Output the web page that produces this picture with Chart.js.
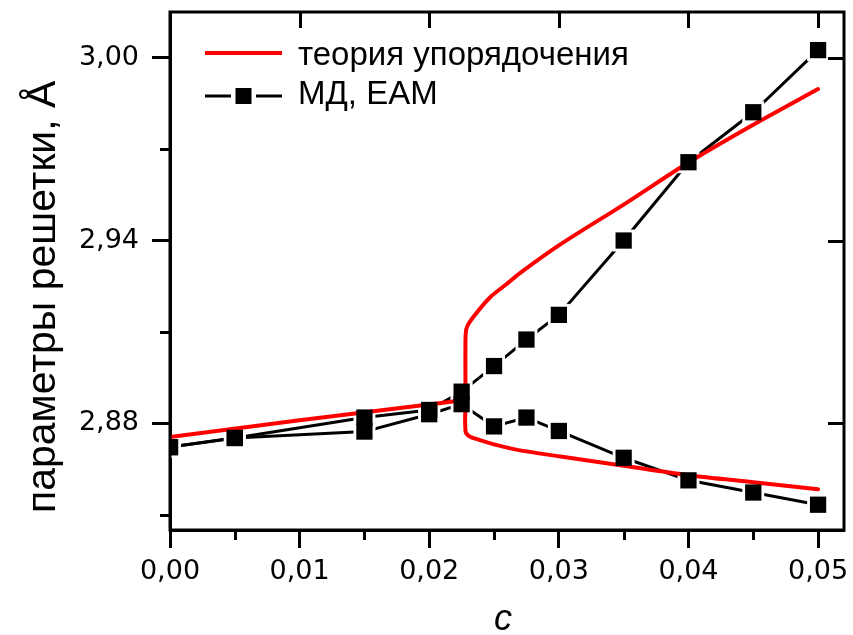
<!DOCTYPE html>
<html lang="ru">
<head>
  <meta charset="UTF-8" />
  <title>Параметры решетки</title>
  <script src="https://cdn.jsdelivr.net/npm/chart.js"></script>
  <style>
    body {
      margin: 0;
      background: #fff;
    }
    canvas {
      display: block;
    }
  </style>
</head>
<body>
  <canvas id="latticeChart" width="853" height="635"></canvas>

  <script>
    // MD (EAM) lattice parameters, two sublattice branches
    const cMD = [0, 0.005, 0.015, 0.02, 0.0225, 0.025, 0.0275, 0.03, 0.035, 0.04, 0.045, 0.05];
    const aMDUpper = [2.8722, 2.8752, 2.8819, 2.8844, 2.8904, 2.8988, 2.9075, 2.9156, 2.9400, 2.9657, 2.9821, 3.0025];
    const aMDLower = [2.8722, 2.8752, 2.8773, 2.8830, 2.8863, 2.8790, 2.8819, 2.8775, 2.8687, 2.8613, 2.8573, 2.8533];

    // ordering theory: disordered state below the transition
    const cTheoryDis = [0, 0.01, 0.0228];
    const aTheoryDis = [2.8755, 2.8810, 2.8877];
    // upper ordered branch
    const cTheoryUp = [0.0228, 0.0228, 0.0229, 0.0234, 0.0247, 0.026, 0.027, 0.03, 0.035, 0.04, 0.045, 0.05];
    const aTheoryUp = [2.8877, 2.9079, 2.9115, 2.9149, 2.9214, 2.9258, 2.9293, 2.9384, 2.9518, 2.9656, 2.9780, 2.9897];
    // lower ordered branch
    const cTheoryLow = [0.0228, 0.0228, 0.0231, 0.0237, 0.025, 0.0268, 0.03, 0.035, 0.04, 0.045, 0.05];
    const aTheoryLow = [2.8877, 2.8774, 2.8757, 2.8748, 2.8731, 2.8713, 2.8692, 2.8661, 2.8630, 2.8607, 2.8584];

    // axis ticks
    const xMajor = [0, 0.01, 0.02, 0.03, 0.04, 0.05];
    const xMinor = [0.005, 0.015, 0.025, 0.035, 0.045];
    const yMajor = [2.88, 2.94, 3.00];
    const yMinor = [2.85, 2.91, 2.97];

    const RED = "#ff0000";
    const SQ = 11.5;      // rect radius -> ~16px square
    const HALO = 15.5;    // white gap around squares

    const pts = (xs, ys) => xs.map((c, i) => ({ x: c, y: ys[i] }));
    const fmt = v => v.toFixed(2).replace(".", ",");

    const lineSet = (label, data, color, width, order, tension) => ({
      label, data, showLine: true, borderColor: color, borderWidth: width,
      pointRadius: 0, order, clip: 0, tension: tension || 0,
      borderJoinStyle: "round", borderCapStyle: "round"
    });
    const markSet = (label, data, color, radius, order) => ({
      label, data, showLine: false, pointStyle: "rect", pointRadius: radius,
      pointBackgroundColor: color, pointBorderWidth: 0, order, clip: 0
    });

    // frame, inner ticks, minor ticks, axis titles and legend
    const decor = {
      id: "decor",
      afterDraw(chart) {
        const { ctx, chartArea: a, scales: { x, y } } = chart;
        ctx.save();
        ctx.strokeStyle = "#000";
        ctx.lineWidth = 3;
        ctx.strokeRect(a.left, a.top, a.right - a.left, a.bottom - a.top);

        ctx.beginPath();
        xMinor.forEach(v => {
          const px = Math.round(x.getPixelForValue(v)) + 0.5;
          ctx.moveTo(px, a.bottom); ctx.lineTo(px, a.bottom + 10);
        });
        yMinor.forEach(v => {
          const py = Math.round(y.getPixelForValue(v)) + 0.5;
          ctx.moveTo(a.left, py); ctx.lineTo(a.left - 10, py);
        });
        xMajor.slice(1).forEach(v => {
          const px = Math.round(x.getPixelForValue(v)) + 0.5;
          ctx.moveTo(px, a.top); ctx.lineTo(px, a.top + 16);
        });
        yMajor.forEach(v => {
          const py = Math.round(y.getPixelForValue(v)) + 0.5;
          ctx.moveTo(a.right, py); ctx.lineTo(a.right - 16, py);
        });
        ctx.stroke();

        // axis titles
        ctx.fillStyle = "#000";
        ctx.textBaseline = "alphabetic";
        ctx.font = 'italic 36px "Liberation Sans"';
        ctx.textAlign = "center";
        ctx.fillText("c", (a.left + a.right) / 2 - 4, 630);

        ctx.save();
        ctx.translate(55, 513);
        ctx.rotate(-Math.PI / 2);
        ctx.textAlign = "left";
        ctx.font = '41px "Liberation Sans"';
        ctx.fillText("параметры решетки, Å", 0, 0);
        ctx.restore();

        // legend
        const lx = a.left + 35, lw = 77;
        ctx.strokeStyle = RED;
        ctx.lineWidth = 4;
        ctx.beginPath();
        ctx.moveTo(lx, 53); ctx.lineTo(lx + lw, 53);
        ctx.stroke();

        ctx.strokeStyle = "#000";
        ctx.lineWidth = 3;
        ctx.beginPath();
        ctx.moveTo(lx, 96); ctx.lineTo(lx + 26, 96);
        ctx.moveTo(lx + lw - 26, 96); ctx.lineTo(lx + lw, 96);
        ctx.stroke();
        ctx.fillStyle = "#000";
        ctx.fillRect(lx + lw / 2 - 8, 88, 16, 16);

        ctx.font = '33px "Liberation Sans"';
        ctx.textAlign = "left";
        ctx.fillText(chart.data.datasets[0].label, lx + 93, 65);
        ctx.fillText(chart.data.datasets[3].label, lx + 93, 104);
        ctx.restore();
      }
    };

    const tickFont = { family: "DejaVu Sans", size: 27 };

    new Chart(document.getElementById("latticeChart"), {
      type: "scatter",
      data: {
        datasets: [
          lineSet("теория упорядочения", pts(cTheoryDis, aTheoryDis), RED, 4, 1),
          lineSet("теория упорядочения", pts(cTheoryUp, aTheoryUp), RED, 4, 1, 0.3),
          lineSet("теория упорядочения", pts(cTheoryLow, aTheoryLow), RED, 4, 1, 0.3),
          lineSet("МД, ЕАМ", pts(cMD, aMDUpper), "#000", 3, 3),
          lineSet("МД, ЕАМ", pts(cMD, aMDLower), "#000", 3, 3),
          markSet("gap", pts(cMD, aMDUpper), "#fff", HALO, 2),
          markSet("gap", pts(cMD, aMDLower), "#fff", HALO, 2),
          markSet("МД, ЕАМ", pts(cMD, aMDUpper), "#000", SQ, 0),
          markSet("МД, ЕАМ", pts(cMD, aMDLower), "#000", SQ, 0)
        ]
      },
      options: {
        responsive: false,
        animation: false,
        events: [],
        layout: { autoPadding: false, padding: { left: 0, right: 9, top: 12, bottom: 0 } },
        scales: {
          x: {
            type: "linear",
            position: "bottom",
            min: 0,
            max: 0.052,
            afterFit: s => { s.height = 105; s.paddingLeft = 0; s.paddingRight = 0; },
            border: { display: true, width: 3, color: "#000" },
            grid: { drawOnChartArea: false, drawTicks: true, tickLength: 18, tickWidth: 3, tickColor: "#000" },
            ticks: {
              stepSize: 0.01,
              includeBounds: false,
              autoSkip: false,
              maxRotation: 0,
              padding: 8,
              color: "#000",
              font: tickFont,
              callback: v => fmt(v)
            }
          },
          y: {
            type: "linear",
            position: "left",
            min: 2.845,
            max: 3.015,
            afterFit: s => { s.width = 170; s.paddingTop = 0; s.paddingBottom = 0; },
            border: { display: true, width: 3, color: "#000" },
            grid: { drawOnChartArea: false, drawTicks: true, tickLength: 18, tickWidth: 3, tickColor: "#000" },
            ticks: {
              stepSize: 0.06,
              includeBounds: false,
              autoSkip: false,
              padding: 13,
              color: "#000",
              font: tickFont,
              callback: v => fmt(v)
            }
          }
        },
        plugins: {
          legend: { display: false },
          tooltip: { enabled: false }
        }
      },
      plugins: [decor]
    });
  </script>
</body>
</html>
